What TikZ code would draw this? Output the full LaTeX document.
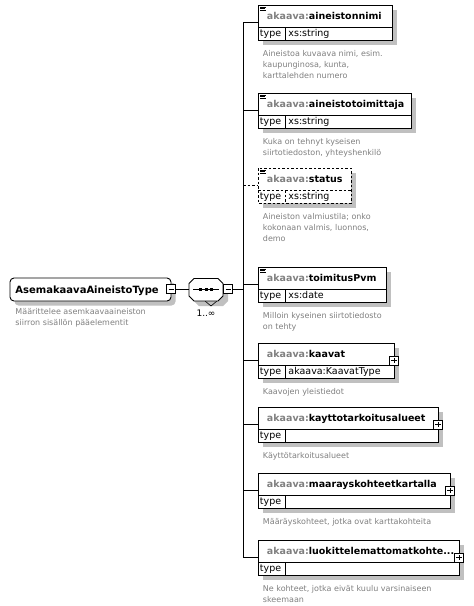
\documentclass[tikz,border=0pt]{standalone}
\usepackage{fontspec}
\setmainfont{DejaVu Sans}
\definecolor{shd}{HTML}{C0C0C0}
\definecolor{pre}{HTML}{808080}
\definecolor{descc}{HTML}{808080}
\newcommand\xelembox[6]{%
  \fill[shd] (262.5,#2+4.5) rectangle (#3+4.5,#2+39.5);
  \draw[fill=white,#6] (258,#2) rectangle (#3,#2+35);
  \draw[#6] (258,#2+22) -- (#3,#2+22);
  \draw[#6] (285,#2+22) -- (285,#2+35);
  \node[ttl] (#1t) at (266.5,#2+14) {\textcolor{pre}{akaava:}#4};
  \node[typ] (#1k) at (259.5,#2+31.5) {type};
  \node[typ] (#1v) at (288,#2+31.5) {#5};
  \coordinate (#1) at (258,#2+17.5);
}
\newcommand\xicon[1]{%
  \draw[line width=0.45pt] (260,#1+1.8) -- (265.5,#1+1.8);
  \draw[line width=0.45pt] (260,#1+3.6) -- (264.5,#1+3.6);
  \draw[line width=0.45pt] (260,#1+5.4) -- (265.5,#1+5.4);
}
\newcommand\xplus[2]{%
  \draw[fill=white] (#1-4.5,#2-4.5) rectangle (#1+4.5,#2+4.5);
  \draw (#1-2.6,#2) -- (#1+2.6,#2);
  \draw (#1,#2-2.6) -- (#1,#2+2.6);
}
\begin{document}
\begin{tikzpicture}[x=1pt,y=-1pt,line width=0.9pt,
  ttl/.style={anchor=base west,inner sep=0pt,font=\fontsize{9.5}{11}\selectfont\bfseries},
  typ/.style={anchor=base west,inner sep=0pt,font=\fontsize{9.5}{11}\selectfont},
  desc/.style={anchor=north west,inner sep=0pt,align=left,text=descc,font=\fontsize{8}{11}\selectfont},
  dsh/.style={dash pattern=on 2.5pt off 2pt}]
\useasboundingbox (0,0) rectangle (474,606);
\fill[white] (0,0) rectangle (474,606);

% bus
\coordinate (bt) at (243,22.5);
\coordinate (bb) at (243,557.5);
\draw (bt) -- (bb);

% main element
\fill[shd,rounded corners=4pt] (14.5,282.5) rectangle (175.5,305.5);
\draw[fill=white,rounded corners=4pt] (10,278) rectangle (171,301);
\node[anchor=base west,inner sep=0pt,font=\fontsize{10}{12}\selectfont\bfseries] (mt) at (15,293.3) {AsemakaavaAineistoType};
\draw[fill=white] (166.5,284.5) rectangle (175.5,293.5);
\draw (168.5,289) -- (173.5,289);
\coordinate (mm) at (175.5,289);
\node[desc] (md) at (15,306) {\rule{0pt}{8pt}Määrittelee asemkaavaaineiston\\siirron sisällön pääelementit};

% sequence compositor
\fill[shd] (194,288.5) -- (199,283.5) -- (223,283.5) -- (228,288.5) -- (228,301) -- (223,306) -- (199,306) -- (194,301) -- cycle;
\draw[line width=0.6pt] (205,301) -- (211,306) -- (217,301);
\draw[fill=white] (189,283.5) -- (194,278.5) -- (218,278.5) -- (223,283.5) -- (223,296) -- (218,301) -- (194,301) -- (189,296) -- cycle;
\coordinate (ow) at (189,289);
\draw[line width=0.8pt] (193,289) -- (219,289);
\fill (199,287.5) rectangle (202,290.5);
\fill (204.5,287.5) rectangle (207.5,290.5);
\fill (210,287.5) rectangle (213,290.5);
\draw[fill=white] (223.5,284.5) rectangle (232.5,293.5);
\draw (225.5,289) -- (230.5,289);
\coordinate (om) at (232.5,289);
\node[inner sep=0pt,font=\fontsize{9}{11}\selectfont] (occ) at (206,313.5) {1..∞};

\draw (mm) -- (ow);
\draw (om) -- (om-|bt);

% children
\xelembox{e1}{5}{392}{aineistonnimi}{xs:string}{}
\xicon{5}
\node[desc] (d1) at (262.5,48) {\rule{0pt}{8pt}Aineistoa kuvaava nimi, esim.\\kaupunginosa, kunta,\\karttalehden numero};

\xelembox{e2}{93}{411}{aineistotoimittaja}{xs:string}{}
\xicon{93}
\node[desc] (d2) at (262.5,136) {\rule{0pt}{8pt}Kuka on tehnyt kyseisen\\siirtotiedoston, yhteyshenkilö};

\xelembox{e3}{168}{351}{status}{xs:string}{dsh}
\xicon{168}
\node[desc] (d3) at (262.5,211) {\rule{0pt}{8pt}Aineiston valmiustila; onko\\kokonaan valmis, luonnos,\\demo};

\xelembox{e4}{267}{386}{toimitusPvm}{xs:date}{}
\xicon{267}
\node[desc] (d4) at (262.5,310) {\rule{0pt}{8pt}Milloin kyseinen siirtotiedosto\\on tehty};

\xelembox{e5}{343}{394}{kaavat}{akaava:KaavatType}{}
\xplus{394}{360.5}
\node[desc] (d5) at (262.5,386) {\rule{0pt}{8pt}Kaavojen yleistiedot};

\xelembox{e6}{407}{438}{kayttotarkoitusalueet}{}{}
\xplus{438}{424.5}
\node[desc] (d6) at (262.5,450) {\rule{0pt}{8pt}Käyttötarkoitusalueet};

\xelembox{e7}{473}{450}{maarayskohteetkartalla}{}{}
\xplus{450}{490.5}
\node[desc] (d7) at (262.5,516) {\rule{0pt}{8pt}Määräyskohteet, jotka ovat karttakohteita};

\xelembox{e8}{540}{459}{luokittelemattomatkohte...}{}{}
\xplus{459}{557.5}
\node[desc] (d8) at (262.5,583) {\rule{0pt}{8pt}Ne kohteet, jotka eivät kuulu varsinaiseen\\skeemaan};

% branches
\draw (e1-|bt) -- (e1);
\draw (e2-|bt) -- (e2);
\draw[dsh] (e3-|bt) -- (e3);
\draw (e4-|bt) -- (e4);
\draw (e5-|bt) -- (e5);
\draw (e6-|bt) -- (e6);
\draw (e7-|bt) -- (e7);
\draw (e8-|bt) -- (e8);
\end{tikzpicture}
\end{document}
